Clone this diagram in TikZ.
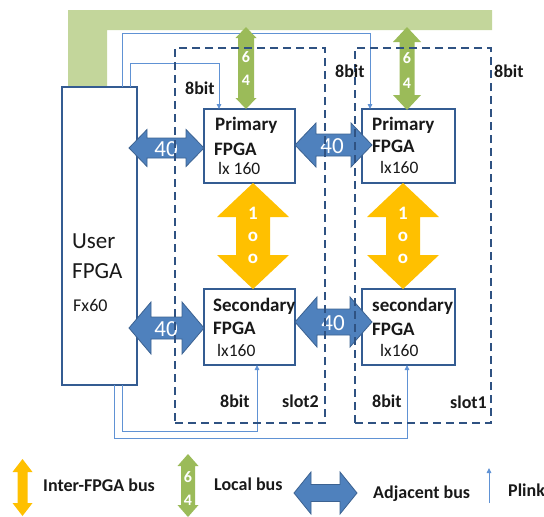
\documentclass[tikz,border=0pt]{standalone}
\usepackage{fontspec}
\setmainfont{Carlito}
\usetikzlibrary{arrows.meta}
\definecolor{boxblue}{RGB}{52,92,146}
\definecolor{dashblue}{RGB}{47,82,130}
\definecolor{plinkblue}{RGB}{96,146,212}
\definecolor{adjfill}{RGB}{79,129,189}
\definecolor{adjdraw}{RGB}{60,98,145}
\definecolor{greenarr}{RGB}{155,187,89}
\definecolor{greenband}{RGB}{195,214,155}
\definecolor{yellowarr}{RGB}{255,192,0}
\definecolor{txt}{RGB}{25,25,25}
\newcommand\hdarr[7]{% x1 x2 y shafthalf headhalf headlen style
 \draw[#7] (#1,#3) -- ({#1+#6},{#3-#5}) -- ({#1+#6},{#3-#4}) -- ({#2-#6},{#3-#4}) -- ({#2-#6},{#3-#5}) -- (#2,#3) -- ({#2-#6},{#3+#5}) -- ({#2-#6},{#3+#4}) -- ({#1+#6},{#3+#4}) -- ({#1+#6},{#3+#5}) -- cycle;}
\newcommand\vdarr[7]{% y1 y2 x shafthalf headhalf headlen style
 \draw[#7] (#3,#1) -- ({#3+#5},{#1+#6}) -- ({#3+#4},{#1+#6}) -- ({#3+#4},{#2-#6}) -- ({#3+#5},{#2-#6}) -- (#3,#2) -- ({#3-#5},{#2-#6}) -- ({#3-#4},{#2-#6}) -- ({#3-#4},{#1+#6}) -- ({#3-#5},{#1+#6}) -- cycle;}
\begin{document}
\begin{tikzpicture}[x=1pt,y=-1pt,
  fbox/.style={draw=boxblue, line width=2pt, fill=white, inner sep=0, outer sep=0},
  slotbox/.style={draw=dashblue, line width=2.2pt, dash pattern=on 8pt off 5pt, inner sep=0, outer sep=0},
  plink/.style={draw=plinkblue, line width=0.9pt, -{Triangle[length=5pt,width=4.5pt]}},
  barrow/.style={fill=adjfill, draw=adjdraw, line width=0.8pt, line join=miter},
  garrow/.style={fill=greenarr, draw=none},
  yarrow/.style={fill=yellowarr, draw=none},
  bl/.style={font=\fontsize{19}{22}\selectfont\bfseries, text=txt, inner sep=0, anchor=base west},
  rl/.style={font=\fontsize{17.5}{20}\selectfont, text=txt, inner sep=0, anchor=base west},
  sl/.style={font=\fontsize{18}{21}\selectfont\bfseries, text=txt, inner sep=0, anchor=base west},
  lg/.style={font=\fontsize{18}{21}\selectfont\bfseries, text=txt, inner sep=0, anchor=base west},
  wn/.style={font=\fontsize{16}{18}\selectfont\bfseries, text=white, inner sep=0},
  wy/.style={font=\fontsize{19}{20}\selectfont\bfseries, text=white, inner sep=0},
  wb/.style={font=\fontsize{23}{25}\selectfont, text=white, inner sep=0}]
\useasboundingbox (0,0) rectangle (544,517);

% local bus band
\fill[greenband] (68,10) -- (492,10) -- (492,30) -- (107,30) -- (107,87) -- (68,87) -- cycle;

% FPGA boxes
\node[fbox, minimum width=75, minimum height=298] (user) at (99.5,236) {};
\node[fbox, minimum width=91, minimum height=74] (p2) at (249.5,146) {};
\node[fbox, minimum width=93, minimum height=74] (p1) at (408.5,146) {};
\node[fbox, minimum width=91, minimum height=76] (s2) at (249.5,327) {};
\node[fbox, minimum width=93, minimum height=76] (s1) at (408.5,327) {};

% plinks
\draw[plink] ([xshift=60]user.north west) |- (370,33) -- ([xshift=8]p1.north west);
\draw[plink] ([xshift=68]user.north west) |- (219,63) -- ([xshift=15]p2.north west);
\draw[plink] ([xshift=60]user.south west) |- (257,431) -- ([xshift=53]s2.south west);
\draw[plink] ([xshift=52]user.south west) |- (407,438) -- ([xshift=45]s1.south west);

% local buses
\vdarr{27}{109}{246}{8}{10.5}{11}{garrow}
\vdarr{27}{110}{407}{7.5}{14}{15}{garrow}
\node[wn] (g2a) at (246,57) {6};
\node[wn] (g2b) at (246,80) {4};
\node[wn] (g1a) at (407,58) {6};
\node[wn] (g1b) at (407,83) {4};

% inter-FPGA buses
\vdarr{183}{289}{253}{17}{36}{34}{yarrow}
\vdarr{183}{289}{403}{17}{36}{34}{yarrow}
\node[wy] (y2a) at (253,213) {1};
\node[wy] (y2b) at (253,237) {o};
\node[wy] (y2c) at (253,259) {o};
\node[wy] (y1a) at (403,213) {1};
\node[wy] (y1b) at (403,237) {o};
\node[wy] (y1c) at (403,259) {o};

% adjacent buses
\hdarr{129}{204}{148}{10}{18.5}{18}{barrow}
\hdarr{129}{204}{328}{11}{26}{22}{barrow}
\hdarr{295}{372}{145}{11}{22}{21}{barrow}
\hdarr{295}{372}{322}{13}{25}{22}{barrow}
\node[wb] (a1) at (166,149) {40};
\node[wb] (a2) at (166,329) {40};
\node[wb] (a3) at (332,146) {40};
\node[wb] (a4) at (333,323) {40};

% slots
\node[slotbox, minimum width=150, minimum height=375] (slot2) at (250,235.5) {};
\node[slotbox, minimum width=136, minimum height=375] (slot1) at (423,235.5) {};

% box texts
\node[font=\fontsize{23}{26}\selectfont, text=txt, inner sep=0, anchor=base west] (u1) at (72,248) {User};
\node[font=\fontsize{23}{26}\selectfont, text=txt, inner sep=0, anchor=base west] (u2) at (72,278) {FPGA};
\node[font=\fontsize{18}{21}\selectfont, text=txt, inner sep=0, anchor=base west] (u3) at (73,311) {Fx60};

\node[bl] (p2a) at (215,130) {Primary};
\node[bl] (p2b) at (214,155) {FPGA};
\node[rl] (p2c) at (218,174) {lx 160};
\node[bl] (p1a) at (372,130) {Primary};
\node[bl] (p1b) at (372,152) {FPGA};
\node[rl] (p1c) at (380,173) {lx160};
\node[bl] (s2a) at (213,311) {Secondary};
\node[bl] (s2b) at (213,334) {FPGA};
\node[rl] (s2c) at (217,356) {lx160};
\node[bl] (s1a) at (372,311) {secondary};
\node[bl] (s1b) at (372,335) {FPGA};
\node[rl] (s1c) at (380,356) {lx160};

% bit / slot labels
\node[sl] (b1) at (185,94) {8bit};
\node[sl] (b2) at (335,77) {8bit};
\node[sl] (b3) at (494,77) {8bit};
\node[sl] (b4) at (220,407) {8bit};
\node[sl] (b5) at (372,407) {8bit};
\node[sl] (sl2) at (282,407) {slot2};
\node[sl] (sl1) at (450,408) {slot1};

% legend
\vdarr{459}{516}{22.5}{5}{10}{13}{yarrow}
\node[lg] (l1) at (43,491) {Inter-FPGA bus};
\vdarr{454}{517}{188}{7}{10.5}{12}{garrow}
\node[wn] (l2a) at (188,477) {6};
\node[wn] (l2b) at (188,500) {4};
\node[lg] (l2) at (214,490) {Local bus};
\hdarr{294}{357}{493}{8.5}{21}{17}{barrow}
\node[lg] (l3) at (373,498) {Adjacent bus};
\coordinate (pl0) at (489,503);
\coordinate (pl1) at (489,468);
\draw[plink] (pl0) -- (pl1);
\node[lg] (l4) at (508,496) {Plink};
\end{tikzpicture}
\end{document}
